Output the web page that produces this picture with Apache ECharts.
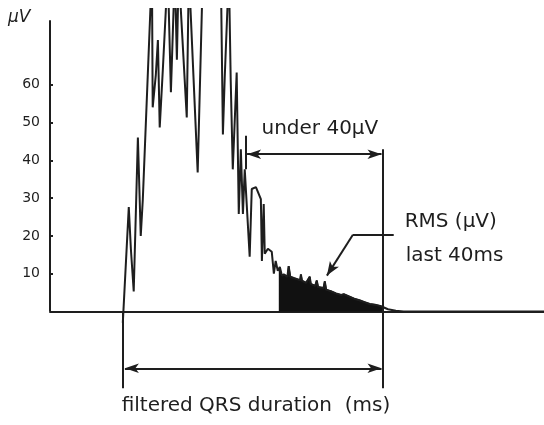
<!DOCTYPE html>
<html>
<head>
<meta charset="utf-8">
<script src="https://cdn.jsdelivr.net/npm/echarts@6/dist/echarts.min.js"></script>
<style>html,body{margin:0;padding:0;background:#fff}#c{width:544px;height:425px}</style>
</head>
<body>
<div id="c"></div>
<script>
// time in ms from QRS onset, amplitude in µV
const signalTime = [0,2.3,3.1,4.2,5.8,6.9,7.7,11.2,11.5,12.7,13.5,14.2,15.4,17.3,18.5,20,20.8,21.5,24.6,25.4,28.8,30.8,37.7,38.5,39.2,40.8,41.5,42.3,43.8,44.6,45.4,46.2,46.9,48.8,49.6,51.2,53.1,53.5,54.2,54.6,55.8,57.3,58.1,58.8,59.6,60];
const signalAmp  = [-3,27.6,16.6,5.3,46,20,29.7,90,54,62.6,71.8,48.7,64,90,58,90,66.6,90,51.3,90,36.8,90,90,46.8,61.8,90,61.3,37.6,63.2,25.8,42.9,25.8,37.6,14.5,32.4,32.9,29.7,13.4,28.4,15.3,16.6,15.8,10,13.4,10.8,11.3];
const lateTime = [60,60.4,61.2,62,63.3,63.8,64.4,66,68.2,68.5,68.9,70.5,71.9,72.3,74,74.6,75.1,77.2,77.7,78.2,80,82,84,85,87,89,91,93,95,97,99,100];
const lateAmp  = [11.3,11.8,9.5,9.8,9.2,12,9.2,8.8,8.3,9.8,8.2,7.6,9.2,7.3,6.8,8.2,6.5,6.2,8,5.8,5.4,4.8,4.4,4.6,4,3.4,3,2.5,2,1.8,1.5,1.2];
const tailTime = [102,105,108,162];
const tailAmp  = [0.6,0.2,0,0];
const yTicks = [10,20,30,40,50,60];
const qrsOnset = 0, qrsEnd = 100, under40Start = 47.3, lastWindowStart = 60;

const pair = (t, a) => t.map((x, i) => [x, a[i]]);
const full = pair(signalTime, signalAmp).concat(pair(lateTime, lateAmp)).concat(pair(tailTime, tailAmp));
const late = pair(lateTime, lateAmp);

const ink = '#1e1e1e';
const font = 'DejaVu Sans';
const chart = echarts.init(document.getElementById('c'));
const lineStyle = {color: ink, width: 2, type: 'solid'};
const txt = (coord, text, align, size) => ({
  coord, value: text, symbolSize: 0,
  label: {show: true, position: 'inside', formatter: text, align: align, verticalAlign: 'middle',
          color: ink, fontFamily: font, fontSize: size}
});
chart.setOption({
  animation: false,
  grid: {left: 50, right: 0, top: 9, bottom: -2},
  xAxis: {type: 'value', min: -28, max: 162,
    axisLine: {show: true, onZero: true, lineStyle: {color: ink, width: 2}},
    axisTick: {show: false}, axisLabel: {show: false}, splitLine: {show: false}},
  yAxis: {type: 'value', min: -30, max: 80, interval: 10,
    axisLine: {show: false, onZero: false},
    axisTick: {show: true, inside: true, length: 3, lineStyle: {color: ink, width: 2},
      customValues: yTicks},
    axisLabel: {show: true, margin: 10, color: ink, fontFamily: font, fontSize: 14,
      customValues: yTicks},
    splitLine: {show: false}},
  graphic: [{type: 'text', left: 8, top: 9, style: {text: 'µV', fill: ink, font: 'italic 17px "DejaVu Sans"'}}],
  series: [
    {type: 'line', data: late, symbol: 'none', clip: true,
      lineStyle: {color: ink, width: 1.5}, areaStyle: {color: '#111', opacity: 1}, z: 2},
    {type: 'line', data: full, symbol: 'none', clip: true,
      lineStyle: {color: ink, width: 2}, z: 3},
    {type: 'line', data: [], clip: false, silent: true,
      markLine: {silent: true, symbol: 'none', lineStyle: lineStyle, label: {show: false},
        data: [
          [{coord: [-28, 0]}, {coord: [-28, 77]}],
          [{coord: [qrsOnset, 0]}, {coord: [qrsOnset, -20.3]}],
          [{coord: [qrsEnd, 42.9]}, {coord: [qrsEnd, -20.3]}],
          [{coord: [under40Start, 46.5]}, {coord: [under40Start, 37.6]}],
          [{coord: [qrsOnset + 0.8, -15], symbol: 'arrow', symbolSize: [7, 14]}, {coord: [qrsEnd - 0.5, -15], symbol: 'arrow', symbolSize: [7, 14]}],
          [{coord: [under40Start + 0.5, 41.6], symbol: 'arrow', symbolSize: [7, 14]}, {coord: [qrsEnd - 0.5, 41.6], symbol: 'arrow', symbolSize: [7, 14]}],
          [{coord: [104.2, 20.3]}, {coord: [88.5, 20.3]}],
          [{coord: [88.5, 20.3]}, {coord: [78.5, 9.5], symbol: 'arrow', symbolSize: [8, 14]}]
        ]},
      markPoint: {silent: true, data: [
        txt([75.8, 48.2], 'under 40µV', 'center', 20),
        txt([108.4, 23.7], 'RMS (µV)', 'left', 20),
        txt([108.8, 14.7], 'last 40ms', 'left', 20),
        txt([51.2, -25], 'filtered QRS duration  (ms)', 'center', 20)
      ]}}
  ]
});
</script>
</body>
</html>
